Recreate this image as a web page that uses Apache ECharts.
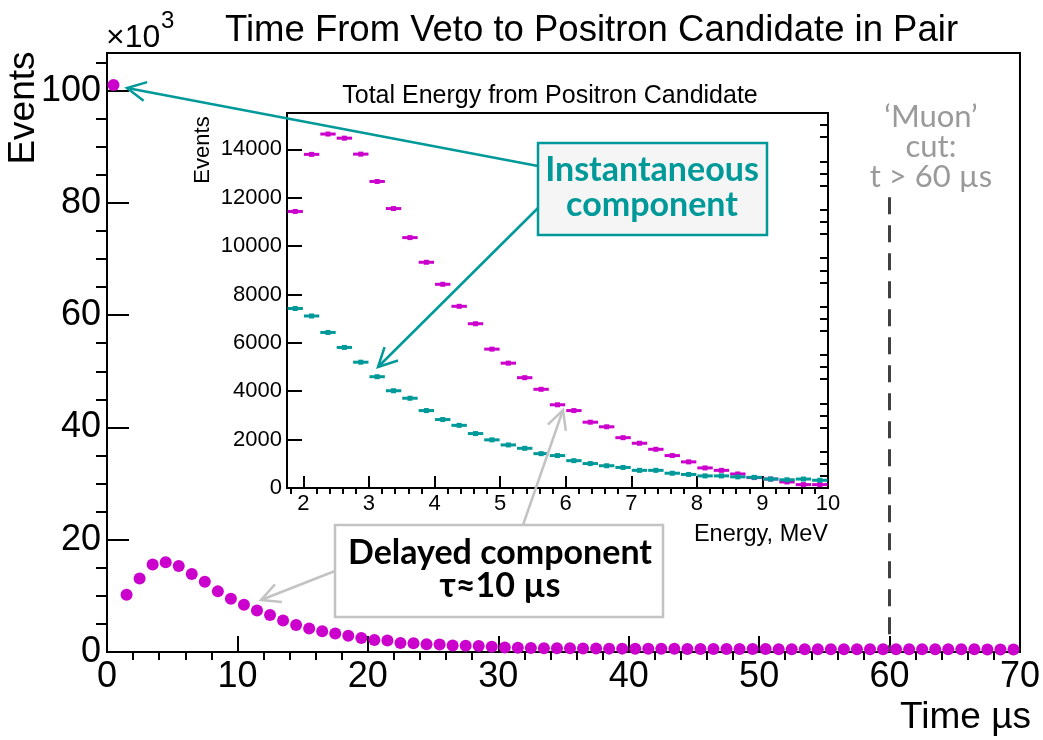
<!DOCTYPE html>
<html>
<head>
<meta charset="utf-8">
<title>Time From Veto to Positron Candidate in Pair</title>
<script src="https://cdn.jsdelivr.net/npm/echarts@6/dist/echarts.min.js"></script>
<style>
  html, body { margin: 0; padding: 0; background: #fff; }
  #chart { width: 1043px; height: 740px; }
</style>
</head>
<body>
<div id="chart"></div>
<script>
// ---- main histogram: time from veto (µs), events in units of 10^3 ----
const timeCenters = [
  0.5, 1.5, 2.5, 3.5, 4.5, 5.5, 6.5, 7.5, 8.5, 9.5,
  10.5, 11.5, 12.5, 13.5, 14.5, 15.5, 16.5, 17.5, 18.5, 19.5,
  20.5, 21.5, 22.5, 23.5, 24.5, 25.5, 26.5, 27.5, 28.5, 29.5,
  30.5, 31.5, 32.5, 33.5, 34.5, 35.5, 36.5, 37.5, 38.5, 39.5,
  40.5, 41.5, 42.5, 43.5, 44.5, 45.5, 46.5, 47.5, 48.5, 49.5,
  50.5, 51.5, 52.5, 53.5, 54.5, 55.5, 56.5, 57.5, 58.5, 59.5,
  60.5, 61.5, 62.5, 63.5, 64.5, 65.5, 66.5, 67.5, 68.5, 69.5
];
const eventsK = [
  101.0, 10.2, 13.1, 15.6, 16.0, 15.3, 13.9, 12.5, 10.8, 9.5,
  8.4, 7.4, 6.6, 5.6, 4.8, 4.2, 3.7, 3.3, 2.9, 2.5,
  2.15, 2.05, 1.6, 1.55, 1.4, 1.35, 1.15, 1.1, 1.05, 0.95,
  0.8, 0.75, 0.7, 0.68, 0.66, 0.65, 0.63, 0.62, 0.6, 0.6,
  0.58, 0.57, 0.56, 0.56, 0.55, 0.54, 0.54, 0.53, 0.53, 0.52,
  0.52, 0.51, 0.51, 0.5, 0.5, 0.5, 0.5, 0.49, 0.49, 0.49,
  0.48, 0.48, 0.48, 0.47, 0.47, 0.47, 0.47, 0.46, 0.46, 0.46
];
const muonCut = 60;          // µs
const muonCutTop = 81;       // top of the cut line, 10^3 events

// ---- inset histogram: total positron candidate energy (MeV) ----
const energyBinWidth = 0.25;
const energyCenters = [
  1.875, 2.125, 2.375, 2.625, 2.875, 3.125, 3.375, 3.625, 3.875, 4.125,
  4.375, 4.625, 4.875, 5.125, 5.375, 5.625, 5.875, 6.125, 6.375, 6.625,
  6.875, 7.125, 7.375, 7.625, 7.875, 8.125, 8.375, 8.625, 8.875, 9.125,
  9.375, 9.625, 9.875
];
const delayedEnergy = [
  11430, 13790, 14630, 14460, 13800, 12670, 11550, 10350, 9330, 8420,
  7510, 6790, 5740, 5160, 4560, 4080, 3440, 3200, 2720, 2530,
  2080, 1850, 1600, 1340, 1080, 830, 730, 580, 430, 370,
  250, 140, 140
];
const instantEnergy = [
  7420, 7110, 6430, 5810, 5200, 4600, 4020, 3710, 3200, 2830,
  2590, 2250, 1990, 1780, 1640, 1420, 1340, 1130, 1010, 920,
  850, 730, 730, 610, 560, 500, 500, 460, 440, 370,
  340, 370, 320
];

// ---- axis ticks ----
const mainXTicks = [0, 10, 20, 30, 40, 50, 60, 70];
const mainYTicks = [0, 20, 40, 60, 80, 100];
const insetXTicks = [2, 3, 4, 5, 6, 7, 8, 9, 10];
const insetYTicks = [0, 2000, 4000, 6000, 8000, 10000, 12000, 14000];

function minorTicks(start, end, step, majors) {
  const out = [];
  for (let v = start; v <= end + 1e-9; v += step) {
    const r = Math.round(v * 1000) / 1000;
    if (!majors.some(m => Math.abs(m - r) < 1e-6)) out.push(r);
  }
  return out;
}

const MAGENTA = '#cc00cc';
const TEAL = '#009999';
const GREY_ARROW = '#c3c3c3';
const ROOT_FONT = '"Liberation Sans", Arial, Helvetica, sans-serif';
const NOTE_FONT = 'Lato, "Open Sans", sans-serif';

function majorAxis(gridIndex, min, max, ticks, tickLen, labelSize, labelMargin) {
  return {
    type: 'value', gridIndex, min, max,
    axisLine: { show: false },
    splitLine: { show: false },
    axisTick: { show: true, inside: true, length: tickLen, customValues: ticks,
                lineStyle: { color: '#000', width: 2 } },
    axisLabel: { show: true, customValues: ticks, fontFamily: ROOT_FONT, fontSize: labelSize,
                 color: '#000', margin: labelMargin, showMinLabel: true, showMaxLabel: true,
                 formatter: v => String(v) }
  };
}
function minorAxis(gridIndex, min, max, ticks, tickLen) {
  return {
    type: 'value', gridIndex, min, max,
    axisLine: { show: false },
    splitLine: { show: false },
    axisTick: { show: true, inside: true, length: tickLen, customValues: ticks,
                lineStyle: { color: '#000', width: 2 } },
    axisLabel: { show: false }
  };
}

const mainXMin = 0, mainXMax = 70, mainYMin = 0, mainYMax = 106.7;
const insetXMin = 1.75, insetXMax = 10, insetYMin = 0, insetYMax = 15500;

const xAxes = [
  majorAxis(0, mainXMin, mainXMax, mainXTicks, 16, 36, 7),
  minorAxis(0, mainXMin, mainXMax, minorTicks(0, 70, 2, mainXTicks), 8),
  majorAxis(1, insetXMin, insetXMax, insetXTicks, 12, 22, 5),
  minorAxis(1, insetXMin, insetXMax, minorTicks(1.8, 10, 0.2, insetXTicks), 6)
];
const yAxes = [
  majorAxis(0, mainYMin, mainYMax, mainYTicks, 22, 36, 6),
  minorAxis(0, mainYMin, mainYMax, minorTicks(5, 105, 5, mainYTicks), 11),
  majorAxis(1, insetYMin, insetYMax, insetYTicks, 15, 22, 5),
  minorAxis(1, insetYMin, insetYMax, minorTicks(500, 15000, 500, insetYTicks), 8)
];

function binRenderer(color) {
  return function (params, api) {
    const x = api.value(0), y = api.value(1);
    const a = api.coord([x - energyBinWidth / 2, y]);
    const b = api.coord([x + energyBinWidth / 2, y]);
    const c = api.coord([x, y]);
    return {
      type: 'group',
      children: [
        { type: 'line', shape: { x1: a[0] + 0.5, y1: a[1], x2: b[0] - 0.5, y2: b[1] },
          style: { stroke: color, lineWidth: 3 } },
        { type: 'rect', shape: { x: c[0] - 2.5, y: c[1] - 2.5, width: 5, height: 5 },
          style: { fill: color } }
      ]
    };
  };
}

// open "V" arrow from (x1,y1) pointing to (x2,y2)
function arrow(x1, y1, x2, y2, color, width) {
  const ang = Math.atan2(y1 - y2, x1 - x2);
  const len = 21, spread = 0.47;
  const p1 = [x2 + len * Math.cos(ang + spread), y2 + len * Math.sin(ang + spread)];
  const p2 = [x2 + len * Math.cos(ang - spread), y2 + len * Math.sin(ang - spread)];
  return [
    { type: 'line', z: 100, shape: { x1, y1, x2, y2 }, style: { stroke: color, lineWidth: width } },
    { type: 'polyline', z: 100, shape: { points: [p1, [x2, y2], p2] },
      style: { stroke: color, lineWidth: width, fill: null } }
  ];
}

const graphics = [
  // main axis decorations
  { type: 'text', x: 106, y: 38, z: 50,
    style: { text: '\u00d710', font: '32px ' + ROOT_FONT, fill: '#000', align: 'left', verticalAlign: 'middle' } },
  { type: 'text', x: 161, y: 21, z: 50,
    style: { text: '3', font: '24px ' + ROOT_FONT, fill: '#000', align: 'left', verticalAlign: 'middle' } },
  { type: 'text', x: 24, y: 108, rotation: Math.PI / 2, z: 50,
    style: { text: 'Events', font: '37px ' + ROOT_FONT, fill: '#000', align: 'center', verticalAlign: 'middle' } },
  { type: 'text', x: 1031, y: 718, z: 50,
    style: { text: 'Time \u00b5s', font: '37px ' + ROOT_FONT, fill: '#000', align: 'right', verticalAlign: 'middle' } },
  // inset decorations
  { type: 'text', x: 550, y: 96, z: 50,
    style: { text: 'Total Energy from Positron Candidate', font: '25px ' + ROOT_FONT, fill: '#000', align: 'center', verticalAlign: 'middle' } },
  { type: 'text', x: 203, y: 150, rotation: Math.PI / 2, z: 50,
    style: { text: 'Events', font: '22px ' + ROOT_FONT, fill: '#000', align: 'center', verticalAlign: 'middle' } },
  { type: 'text', x: 828, y: 535, z: 50,
    style: { text: 'Energy, MeV', font: '23.5px ' + ROOT_FONT, fill: '#000', align: 'right', verticalAlign: 'middle' } },
  // muon cut note
  { type: 'text', x: 931, y: 147, z: 50,
    style: { text: '\u2018Muon\u2019\ncut:\nt > 60 \u00b5s', font: '31px ' + NOTE_FONT, fill: '#9a9a9a',
             align: 'center', verticalAlign: 'middle', lineHeight: 30 } },
  // instantaneous component note
  ...arrow(538, 166, 127, 88, TEAL, 2.5),
  ...arrow(538, 208, 378, 367, TEAL, 2.5),
  { type: 'rect', z: 101, shape: { x: 538, y: 143, width: 229, height: 92 },
    style: { fill: '#f5f5f5', stroke: TEAL, lineWidth: 2.5 } },
  { type: 'text', x: 652, y: 188, z: 102,
    style: { text: 'Instantaneous\ncomponent', font: 'bold 34px ' + NOTE_FONT, fill: TEAL,
             align: 'center', verticalAlign: 'middle', lineHeight: 35 } },
  // delayed component note
  ...arrow(335, 571, 261, 600, GREY_ARROW, 2.5),
  ...arrow(523, 525, 563, 410, GREY_ARROW, 2.5),
  { type: 'rect', z: 101, shape: { x: 335, y: 525, width: 328, height: 92 },
    style: { fill: '#ffffff', stroke: GREY_ARROW, lineWidth: 2.5 } },
  { type: 'text', x: 500, y: 570, z: 102,
    style: { text: 'Delayed component\n\u03c4\u224810 \u00b5s', font: 'bold 34px ' + NOTE_FONT, fill: '#000',
             align: 'center', verticalAlign: 'middle', lineHeight: 33 } }
];

const chart = echarts.init(document.getElementById('chart'), null, { renderer: 'canvas' });
chart.setOption({
  animation: false,
  backgroundColor: '#ffffff',
  title: {
    text: 'Time From Veto to Positron Candidate in Pair',
    left: 220, top: 7,
    textStyle: { fontFamily: ROOT_FONT, fontSize: 36.5, fontWeight: 'normal', color: '#000' }
  },
  grid: [
    { left: 107, top: 53, width: 913, height: 599, show: true,
      borderColor: '#000', borderWidth: 2, backgroundColor: '#fff' },
    { left: 287, top: 113, width: 541, height: 375, show: true,
      borderColor: '#000', borderWidth: 2, backgroundColor: '#fff' }
  ],
  xAxis: xAxes,
  yAxis: yAxes,
  series: [
    {
      type: 'scatter', xAxisIndex: 0, yAxisIndex: 0, clip: false,
      symbol: 'circle', symbolSize: 12,
      itemStyle: { color: MAGENTA, opacity: 1 },
      data: timeCenters.map((t, i) => [t, eventsK[i]]),
      markLine: {
        silent: true, symbol: 'none', label: { show: false },
        lineStyle: { color: '#404040', width: 3, type: [17, 11] },
        data: [[{ coord: [muonCut, muonCutTop] }, { coord: [muonCut, 0] }]]
      },
      z: 5
    },
    {
      type: 'custom', xAxisIndex: 2, yAxisIndex: 2,
      renderItem: binRenderer(MAGENTA),
      data: energyCenters.map((e, i) => [e, delayedEnergy[i]]),
      z: 5
    },
    {
      type: 'custom', xAxisIndex: 2, yAxisIndex: 2,
      renderItem: binRenderer(TEAL),
      data: energyCenters.map((e, i) => [e, instantEnergy[i]]),
      z: 5
    }
  ],
  graphic: graphics
});
</script>
</body>
</html>
